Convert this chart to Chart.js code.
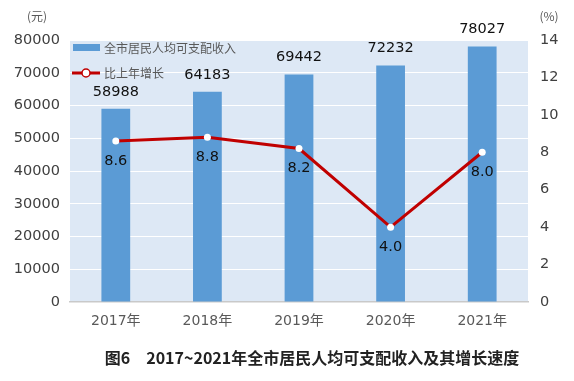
<!DOCTYPE html>
<html>
<head>
<meta charset="utf-8">
<script src="https://cdn.jsdelivr.net/npm/chart.js@4/dist/chart.umd.min.js"></script>
<style>
  html, body { margin: 0; padding: 0; background: #fff; }
  #wrap { width: 574px; height: 381px; position: relative; }
</style>
</head>
<body>
<div id="wrap"><canvas id="c" width="574" height="381"></canvas></div>
<script>
const years = ["2017年", "2018年", "2019年", "2020年", "2021年"];
const income = [58988, 64183, 69442, 72232, 78027];
const growth = [8.6, 8.8, 8.2, 4.0, 8.0];
const incomeLabel = "全市居民人均可支配收入";
const growthLabel = "比上年增长";
const chartTitle = "图6　2017~2021年全市居民人均可支配收入及其增长速度";

const FONT = "'DejaVu Sans', 'Noto Sans CJK SC', sans-serif";
const CJK = "'Noto Sans CJK SC', sans-serif";
const BAR_COLOR = "#5b9bd5";
const LINE_COLOR = "#c00000";

// background, legend, labels and titles drawn on the canvas
const decor = {
  id: "decor",
  beforeDraw(chart) {
    const { ctx, chartArea: a } = chart;
    ctx.save();
    ctx.fillStyle = "#dde8f5";
    ctx.fillRect(a.left, a.top, a.right - a.left, a.bottom - a.top);
    ctx.restore();
  },
  afterDraw(chart) {
    const { ctx } = chart;
    ctx.save();

    // value labels: bars (dataset 1) above, line points (dataset 0) below
    ctx.font = "14.5px " + FONT;
    ctx.fillStyle = "#111";
    ctx.textAlign = "center";
    ctx.textBaseline = "middle";
    chart.getDatasetMeta(1).data.forEach((el, i) => {
      ctx.fillText(String(income[i]), el.x, el.y - 17);
    });
    chart.getDatasetMeta(0).data.forEach((el, i) => {
      ctx.fillText(growth[i].toFixed(1), el.x, el.y + 20);
    });

    // legend
    ctx.fillStyle = BAR_COLOR;
    ctx.fillRect(73, 44, 27, 7);
    ctx.strokeStyle = LINE_COLOR;
    ctx.lineWidth = 3;
    ctx.beginPath();
    ctx.moveTo(72, 73);
    ctx.lineTo(100, 73);
    ctx.stroke();
    ctx.beginPath();
    ctx.arc(86, 73, 4, 0, Math.PI * 2);
    ctx.fillStyle = "#fff";
    ctx.fill();
    ctx.lineWidth = 1.5;
    ctx.stroke();
    ctx.font = "12px " + CJK;
    ctx.fillStyle = "#595959";
    ctx.textAlign = "left";
    ctx.fillText(incomeLabel, 104, 48);
    ctx.fillText(growthLabel, 104, 73);

    // axis units
    ctx.textAlign = "center";
    ctx.fillText("(元)", 37, 16);
    ctx.fillText("(%)", 549, 16);

    // figure title
    ctx.font = "bold 16px " + CJK;
    ctx.fillStyle = "#222";
    ctx.fillText(chartTitle, 312, 358);
    ctx.restore();
  }
};

new Chart(document.getElementById("c"), {
  data: {
    labels: years,
    datasets: [
      {
        type: "line",
        label: growthLabel,
        data: growth,
        yAxisID: "y1",
        borderColor: LINE_COLOR,
        borderWidth: 3,
        tension: 0,
        pointRadius: 3.5,
        pointBackgroundColor: "#fff",
        pointBorderColor: "#fff",
        pointBorderWidth: 0,
        order: 0
      },
      {
        type: "bar",
        label: incomeLabel,
        data: income,
        yAxisID: "y",
        backgroundColor: BAR_COLOR,
        barPercentage: 0.314,
        categoryPercentage: 1,
        order: 1
      }
    ]
  },
  options: {
    responsive: false,
    animation: false,
    layout: { padding: { top: 40, left: 0, right: 0, bottom: 0 } },
    plugins: {
      legend: { display: false },
      tooltip: { enabled: false }
    },
    scales: {
      x: {
        grid: { display: false, drawTicks: false },
        border: { display: true, color: "#c9c9c9", width: 1.5 },
        ticks: {
          color: "#595959",
          font: { family: FONT, size: 14 },
          padding: 11,
          maxRotation: 0,
          autoSkip: false
        },
        afterFit(scale) { scale.height = 79; }
      },
      y: {
        position: "left",
        min: 0,
        max: 80000,
        grid: { color: "#ffffff", lineWidth: 1, drawTicks: false },
        border: { display: false },
        ticks: {
          stepSize: 10000,
          color: "#404040",
          font: { family: FONT, size: 14.5 },
          padding: 10,
          callback: (v) => String(v)
        },
        afterFit(scale) { scale.width = 70; }
      },
      y1: {
        position: "right",
        min: 0,
        max: 14,
        grid: { display: false, drawTicks: false },
        border: { display: false },
        ticks: {
          stepSize: 2,
          color: "#404040",
          font: { family: FONT, size: 14.5 },
          padding: 12,
          callback: (v) => String(v)
        },
        afterFit(scale) { scale.width = 46; }
      }
    }
  },
  plugins: [decor]
});
</script>
</body>
</html>
